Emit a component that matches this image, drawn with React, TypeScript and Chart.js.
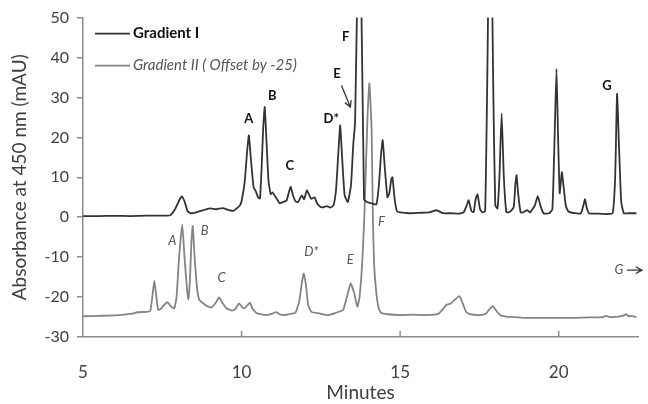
import React, { useEffect, useRef } from "react";
import { Chart, registerables } from "chart.js";

Chart.register(...registerables);

// Gradient I trace (minutes, mAU)
const timeI = [
  5.0, 5.5, 6.0, 6.5, 7.0, 7.5, 7.75, 7.9, 8.05, 8.12, 8.2, 8.3, 8.4, 8.6, 8.8, 9.0, 9.2, 9.4, 9.6, 9.75,
  9.85, 9.95, 10.0, 10.1, 10.18, 10.23, 10.3, 10.38, 10.45, 10.52, 10.58, 10.63, 10.68, 10.73, 10.78, 10.85, 10.92, 10.98, 11.05, 11.12,
  11.2, 11.3, 11.42, 11.5, 11.55, 11.62, 11.7, 11.78, 11.85, 11.9, 11.97, 12.06, 12.12, 12.2, 12.3, 12.38, 12.48, 12.58, 12.68, 12.8,
  12.9, 12.98, 13.05, 13.11, 13.17, 13.25, 13.35, 13.45, 13.52, 13.58, 13.72, 13.86, 13.95, 14.1, 14.25, 14.33, 14.4, 14.45, 14.52, 14.6,
  14.66, 14.72, 14.76, 14.82, 14.9, 15.0, 15.3, 15.6, 15.9, 16.15, 16.35, 16.6, 16.85, 17.0, 17.1, 17.16, 17.25, 17.32, 17.38, 17.44,
  17.52, 17.6, 17.68, 17.74, 17.84, 17.94, 18.0, 18.07, 18.13, 18.2, 18.27, 18.35, 18.45, 18.58, 18.63, 18.67, 18.72, 18.8, 18.9, 19.0,
  19.1, 19.25, 19.34, 19.42, 19.52, 19.7, 19.8, 19.87, 19.93, 19.98, 20.03, 20.07, 20.1, 20.15, 20.22, 20.3, 20.5, 20.7, 20.78, 20.83,
  20.88, 20.95, 21.2, 21.5, 21.7, 21.78, 21.84, 21.9, 21.97, 22.05, 22.2, 22.45,
];
const absI = [
  0.3, 0.3, 0.35, 0.3, 0.4, 0.4, 0.5, 2, 4.5, 5.2, 4, 1.5, 1.0, 1.3, 1.8, 2.2, 2.0, 2.3, 1.8, 1.6,
  2.2, 3.0, 4, 9, 17, 20.5, 14, 7.5, 6.5, 5, 4.7, 12, 22, 27.6, 20, 9, 5.8, 6.2, 5.3, 4.5,
  3.5, 3.8, 4.2, 6.5, 7.6, 5.5, 4.0, 3.8, 4.8, 5.5, 4.5, 6.7, 5.8, 4.6, 5.0, 3.5, 2.6, 2.5, 2.8, 2.4,
  3.0, 7, 16, 23, 15, 5.5, 3.8, 8, 18, 24, 85, 4.5, 3.8, 3.5, 3.2, 8, 16, 19.3, 12, 5,
  6, 9.5, 10, 5, 1.5, 1.2, 1.0, 1.1, 1.2, 1.75, 1.0, 1.0, 0.9, 1.2, 3, 4.25, 1.5, 1.3, 4.5, 5.7,
  2, 1.2, 1.5, 30, 90, 30, 3, 2.2, 10, 26, 10, 1.3, 1.3, 2.5, 8, 10.5, 6, 1.2, 1.3, 1.75,
  1.2, 3, 5.25, 3, 1.0, 1.0, 2, 20, 37.2, 20, 6, 9, 11.3, 8, 3, 1.5, 1.0, 1.0, 3, 4.5,
  2.5, 1.0, 0.9, 0.8, 1.0, 10, 30.9, 18, 4, 1.0, 1.0, 1.0,
];

// Gradient II trace (offset by -25)
const timeII = [
  5.0, 5.5, 6.0, 6.3, 6.6, 6.7, 7.0, 7.12, 7.2, 7.25, 7.3, 7.37, 7.45, 7.55, 7.67, 7.78, 7.88, 7.95, 8.03, 8.13,
  8.2, 8.28, 8.32, 8.37, 8.42, 8.46, 8.52, 8.6, 8.67, 8.78, 8.9, 9.05, 9.18, 9.29, 9.4, 9.52, 9.7, 9.8, 9.92, 10.05,
  10.15, 10.26, 10.35, 10.49, 10.78, 10.95, 11.08, 11.2, 11.35, 11.55, 11.7, 11.82, 11.9, 11.96, 12.03, 12.1, 12.2, 12.45, 12.72, 12.95,
  13.2, 13.32, 13.44, 13.55, 13.65, 13.72, 13.8, 13.87, 13.97, 14.03, 14.1, 14.14, 14.18, 14.25, 14.33, 14.41, 14.6, 15.0, 15.4, 15.8,
  16.2, 16.35, 16.45, 16.6, 16.75, 16.87, 16.97, 17.08, 17.2, 17.5, 17.7, 17.82, 17.92, 18.02, 18.15, 18.34, 18.6, 18.97, 19.5, 20.0,
  20.5, 21.0, 21.4, 21.49, 21.6, 21.9, 22.05, 22.12, 22.2, 22.3, 22.45,
];
const absII = [
  -24.8, -24.7, -24.6, -24.4, -24.1, -23.8, -23.7, -23.5, -19, -15.9, -19, -23.2, -23, -22, -21.3, -22.4, -22.8, -20, -10, -1.8,
  -10, -18, -20.5, -16, -6, -2.2, -10, -18, -20.7, -21.5, -22.2, -22.6, -21.5, -20.1, -21.5, -22.8, -23.4, -23, -21.6, -22.8,
  -22.4, -21.4, -23, -24.1, -24.5, -24.2, -23.75, -24.3, -24.5, -24.2, -23.9, -21, -16.5, -14.1, -17, -22, -23.7, -24.1, -24.5, -24,
  -23.25, -20, -16.6, -19, -22.4, -20, -12, 0, 25, 33.5, 22, 0, -12, -19, -23, -24, -24.3, -24.5, -24.4, -24.5,
  -24.2, -23, -22, -21.6, -20.5, -19.75, -21.5, -23.7, -24.3, -24.5, -24.2, -23, -22.25, -23.3, -24.5, -24.9, -25, -25.2, -25.2, -25.2,
  -25.2, -25.1, -25, -24.7, -25, -24.9, -24.6, -24.3, -24.8, -24.7, -25,
];

// Peak labels
const peakNamesI = ["A", "B", "C", "D*", "E", "F", "G"];
const peakXI = [10.23, 10.97, 11.52, 12.83, 13.01, 13.28, 21.52];
const peakYI = [24.75, 30.5, 13, 24.7, 36, 45.3, 33];
const peakNamesII = ["A", "B", "C", "D*", "E", "F", "G"];
const peakXII = [7.82, 8.84, 9.37, 12.2, 13.43, 14.41, 21.9];
const peakYII = [-6, -3.4, -15.2, -8.7, -10.75, -1.2, -13.25];

const seriesNames = ["Gradient I", "Gradient II ( Offset by -25)"];
const xTicks = [5, 10, 15, 20];

const FONT = "Lato, 'Open Sans', sans-serif";
const COLOR_I = "#333333";
const COLOR_II = "#848484";

const annotatePlugin = {
  id: "annotate",
  afterDatasetsDraw(chart: any) {
    const { ctx, chartArea, scales } = chart;
    const xs = scales.x;
    const ys = scales.y;
    ctx.save();
    // inward x ticks
    ctx.strokeStyle = "#8c8c8c";
    ctx.lineWidth = 1.5;
    xTicks.forEach((t) => {
      if (t === xs.min) return;
      const px = xs.getPixelForValue(t);
      ctx.beginPath();
      ctx.moveTo(px, chartArea.bottom);
      ctx.lineTo(px, chartArea.bottom - 6);
      ctx.stroke();
    });
    // legend
    const lx = chartArea.left + 12;
    const rows = [chartArea.top + 16, chartArea.top + 48];
    const cols = [COLOR_I, COLOR_II];
    const fonts = [`bold 15px ${FONT}`, `italic 15px ${FONT}`];
    const tcols = ["#111", "#555"];
    rows.forEach((ry, i) => {
      ctx.strokeStyle = cols[i];
      ctx.lineWidth = 1.6;
      ctx.beginPath();
      ctx.moveTo(lx, ry);
      ctx.lineTo(lx + 35, ry);
      ctx.stroke();
      ctx.font = fonts[i];
      ctx.fillStyle = tcols[i];
      ctx.textAlign = "left";
      ctx.textBaseline = "middle";
      ctx.fillText(seriesNames[i], lx + 38, ry);
    });
    // peak labels
    ctx.textAlign = "center";
    ctx.textBaseline = "middle";
    ctx.font = `bold 13px ${FONT}`;
    ctx.fillStyle = "#111";
    peakNamesI.forEach((n, i) => {
      ctx.fillText(n, xs.getPixelForValue(peakXI[i]), ys.getPixelForValue(peakYI[i]));
    });
    ctx.font = `italic 13px ${FONT}`;
    ctx.fillStyle = "#555";
    peakNamesII.forEach((n, i) => {
      ctx.fillText(n, xs.getPixelForValue(peakXII[i]), ys.getPixelForValue(peakYII[i]));
    });
    // arrows
    const drawArrow = (x1: number, y1: number, x2: number, y2: number, color: string) => {
      ctx.strokeStyle = color;
      ctx.lineWidth = 1.3;
      ctx.beginPath();
      ctx.moveTo(x1, y1);
      ctx.lineTo(x2, y2);
      const ang = Math.atan2(y2 - y1, x2 - x1);
      const h = 7;
      ctx.moveTo(x2 - h * Math.cos(ang - 0.5), y2 - h * Math.sin(ang - 0.5));
      ctx.lineTo(x2, y2);
      ctx.lineTo(x2 - h * Math.cos(ang + 0.5), y2 - h * Math.sin(ang + 0.5));
      ctx.stroke();
    };
    drawArrow(xs.getPixelForValue(13.15), ys.getPixelForValue(33), xs.getPixelForValue(13.43), ys.getPixelForValue(27.6), "#333");
    const gy = ys.getPixelForValue(peakYII[6]);
    const gx = xs.getPixelForValue(peakXII[6]);
    drawArrow(gx + 8, gy, gx + 23, gy, "#333");
    ctx.restore();
  },
};

export default function App() {
  const ref = useRef<HTMLCanvasElement>(null);
  useEffect(() => {
    document.body.style.margin = "0";
    const ptsI = timeI.map((t, i) => ({ x: t, y: absI[i] }));
    const ptsII = timeII.map((t, i) => ({ x: t, y: absII[i] }));
    const chart = new Chart(ref.current!, {
      type: "line",
      data: {
        datasets: [
          { label: seriesNames[0], data: ptsI, borderColor: COLOR_I, borderWidth: 1.8, pointRadius: 0, tension: 0.15 },
          { label: seriesNames[1], data: ptsII, borderColor: COLOR_II, borderWidth: 1.8, pointRadius: 0, tension: 0.15 },
        ],
      },
      options: {
        responsive: false,
        animation: false,
        layout: { padding: { top: 17, right: 10, left: 0, bottom: 0 } },
        plugins: { legend: { display: false }, tooltip: { enabled: false } },
        scales: {
          x: {
            type: "linear",
            min: 5,
            max: 22.5,
            afterBuildTicks: (s: any) => {
              s.ticks = xTicks.map((v) => ({ value: v }));
            },
            afterFit: (s: any) => {
              s.height = 67;
            },
            grid: { drawOnChartArea: false, drawTicks: false },
            border: { color: "#8c8c8c", width: 1.5 },
            ticks: { padding: 25, color: "#404040", font: { family: FONT, size: 17 } },
            title: { display: true, text: "Minutes", color: "#404040", font: { family: FONT, size: 19 }, padding: { top: 0, bottom: 0 } },
          },
          y: {
            min: -30,
            max: 50,
            afterFit: (s: any) => {
              s.width = 83;
            },
            grid: { drawOnChartArea: false, tickLength: 6, color: "#8c8c8c", lineWidth: 1.5 },
            border: { color: "#8c8c8c", width: 1.5 },
            ticks: { stepSize: 10, padding: 8, color: "#404040", font: { family: FONT, size: 16 } },
            title: { display: true, text: "Absorbance at 450 nm (mAU)", color: "#404040", font: { family: FONT, size: 19 }, padding: { top: 8, bottom: 0 } },
          },
        },
      },
      plugins: [annotatePlugin],
    });
    return () => chart.destroy();
  }, []);
  return (
    <div style={{ position: "absolute", left: 0, top: 0, width: 648, height: 404, background: "#fff" }}>
      <canvas ref={ref} width={648} height={404} />
    </div>
  );
}
